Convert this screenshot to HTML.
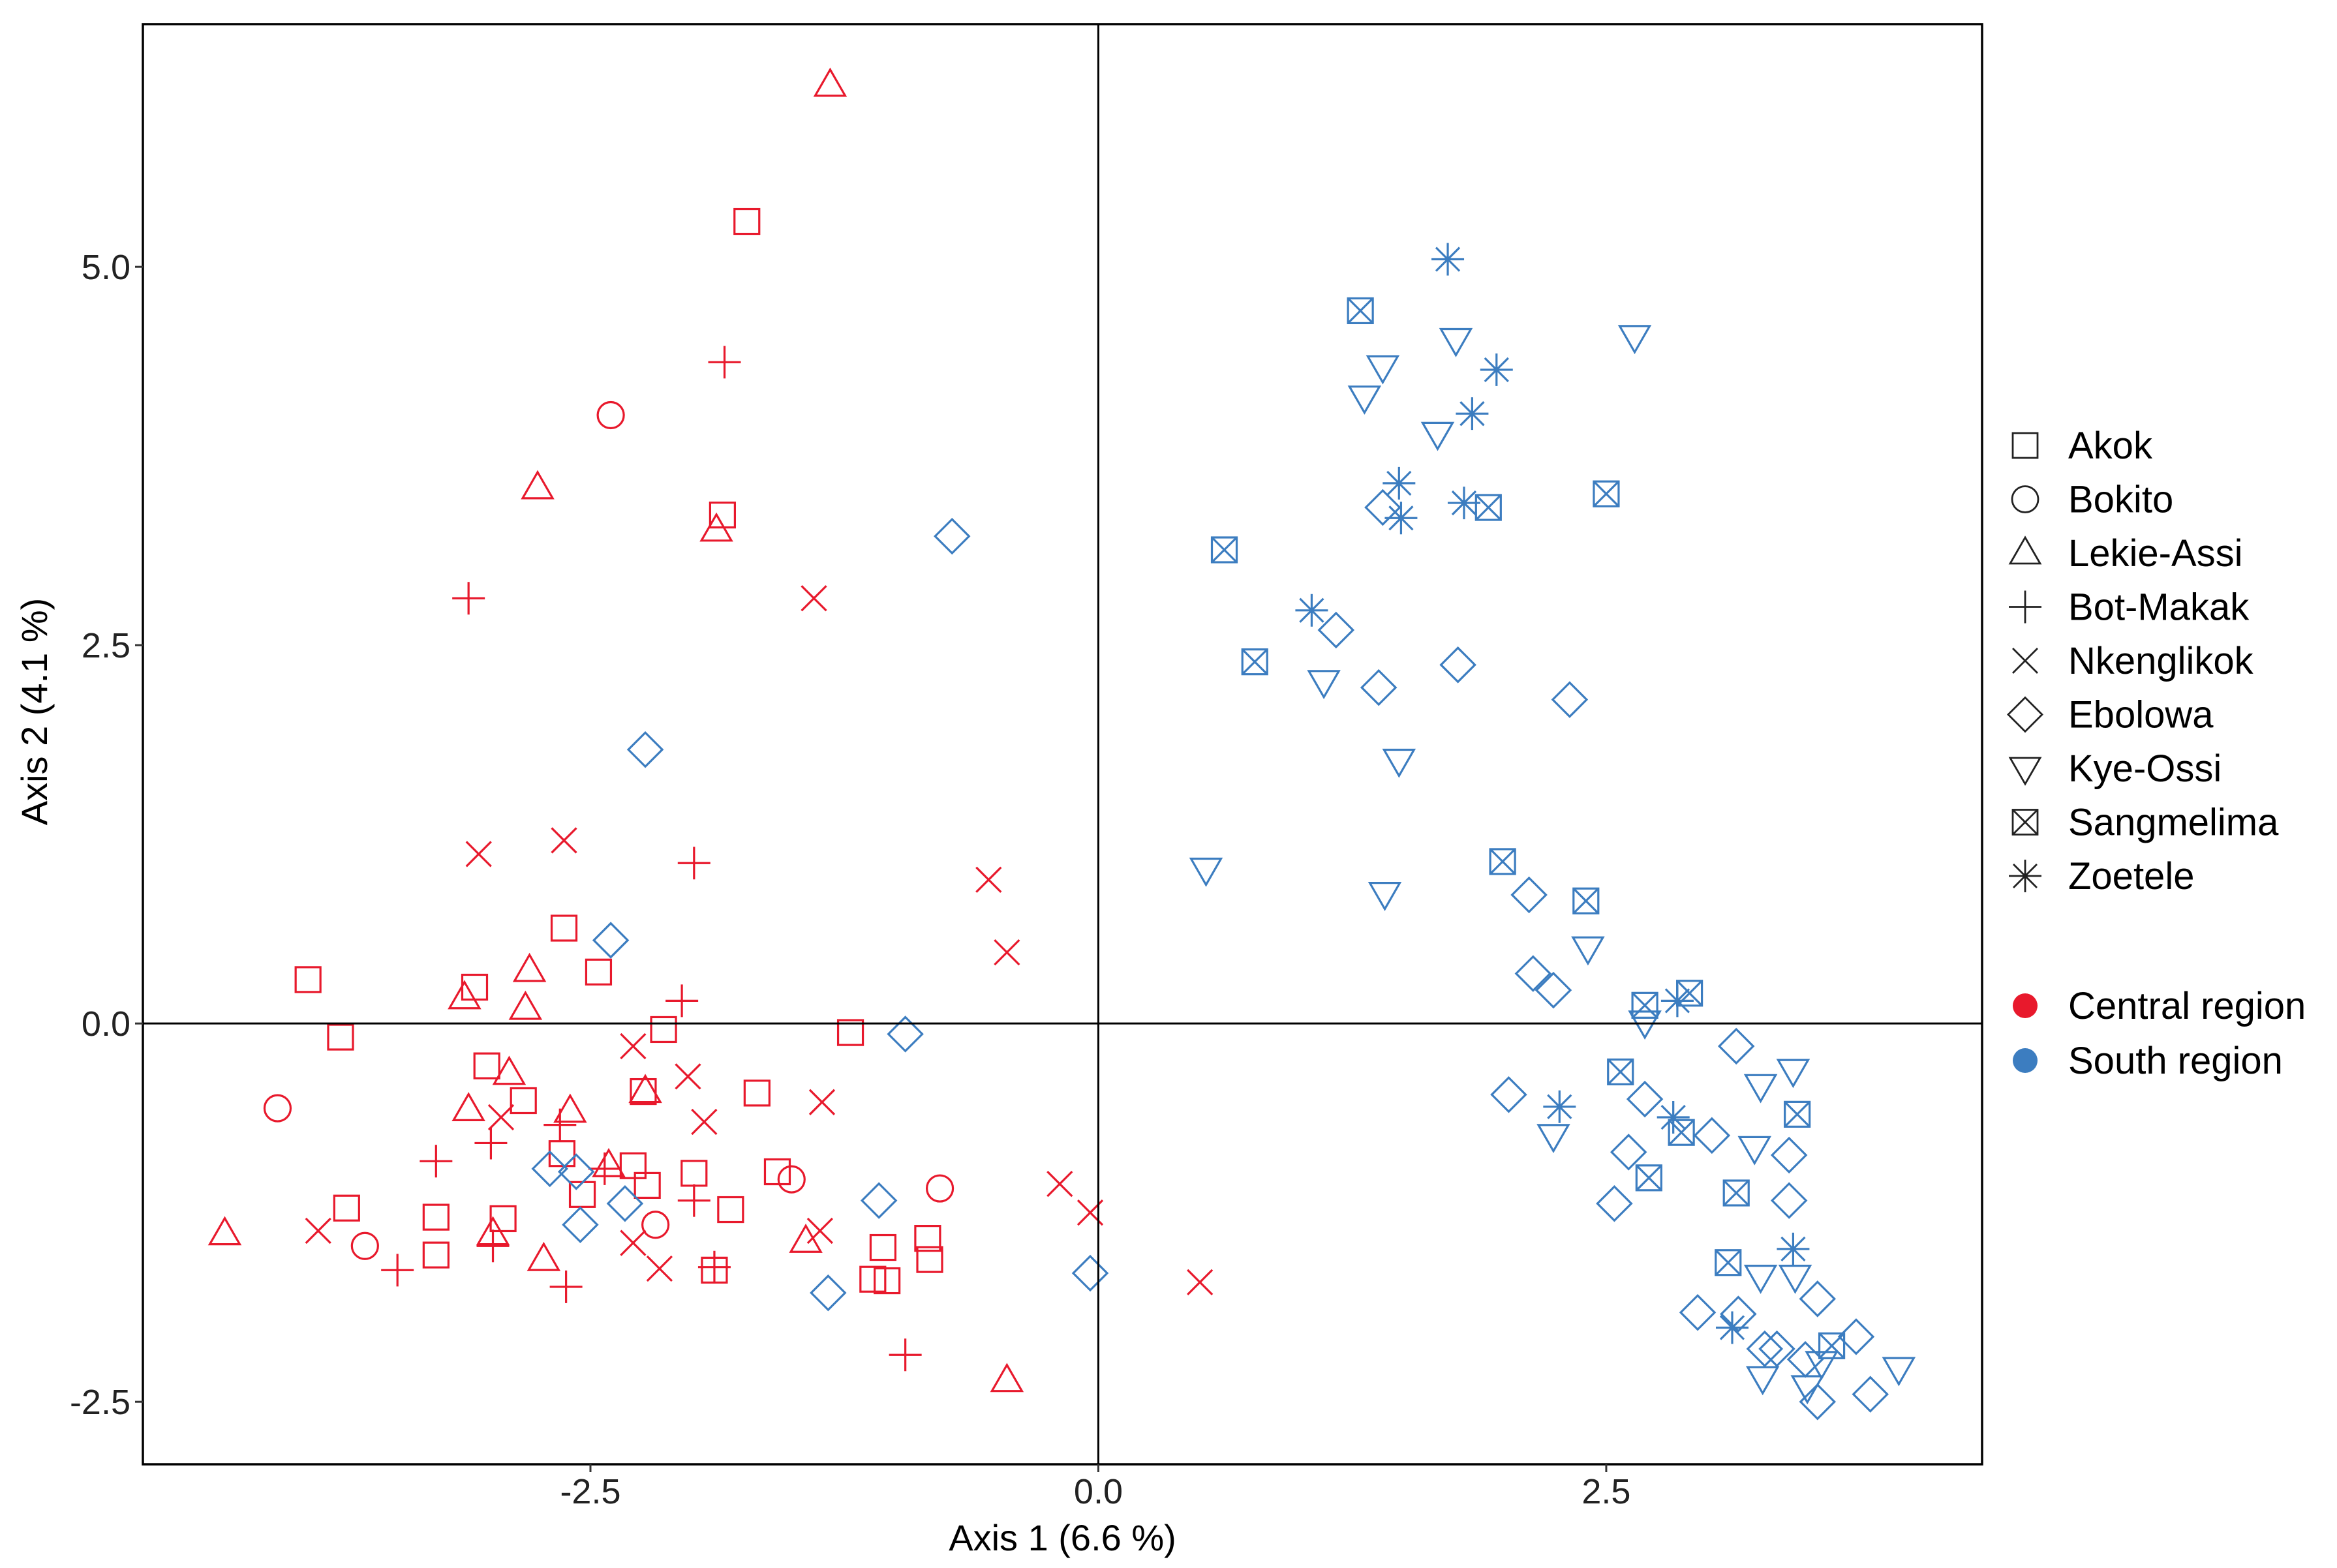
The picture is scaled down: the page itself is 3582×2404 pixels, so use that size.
<!DOCTYPE html>
<html><head><meta charset="utf-8"><style>
html,body{margin:0;padding:0;background:#fff;}
svg{display:block;font-family:"Liberation Sans",Arial,sans-serif;}
</style></head><body>
<svg id="chart" width="3582" height="2404" viewBox="0 0 3582 2404" xmlns="http://www.w3.org/2000/svg">
<rect width="3582" height="2404" fill="#fff"/>
<g id="marks"></g>
<g id="axes"></g>
<g id="legend"></g>
</svg>
<script>
const RED="#E8192C", BLUE="#3C7DC0";
const xTicks=[-2.5,0.0,2.5];
const yTicks=[-2.5,0.0,2.5,5.0];
const tickLabels={"-2.5":"-2.5","0":"0.0","2.5":"2.5","5":"5.0"};
const groups=["Akok","Bokito","Lekie-Assi","Bot-Makak","Nkenglikok","Ebolowa","Kye-Ossi","Sangmelima","Zoetele"];
const regions=["Central region","South region"];
const akokX=[-1.73,-1.85,-3.89,-3.73,-2.63,-2.46,-3.07,-3.01,-2.83,-2.14,-2.24,-1.68,-1.22,-2.64,-2.54,-2.29,-2.22,-1.99,-1.58,-1.81,-3.70,-3.26,-3.26,-2.93,-1.89,-1.06,-0.84,-0.83,-1.11,-1.04];
const akokY=[5.30,3.36,0.29,-0.09,0.63,0.34,0.24,-0.28,-0.51,-0.04,-0.45,-0.46,-0.06,-0.86,-1.13,-0.94,-1.07,-0.99,-0.98,-1.23,-1.22,-1.28,-1.53,-1.29,-1.63,-1.48,-1.42,-1.56,-1.69,-1.70];
const bokitoX=[-2.40,-4.04,-3.61,-2.18,-1.51,-0.78];
const bokitoY=[4.02,-0.56,-1.47,-1.33,-1.03,-1.09];
const lekieX=[-1.32,-2.76,-1.88,-2.80,-2.82,-3.12,-2.90,-3.10,-2.60,-2.41,-2.23,-2.98,-2.73,-4.30,-1.44,-0.45];
const lekieY=[6.20,3.54,3.26,0.35,0.10,0.17,-0.33,-0.57,-0.58,-0.94,-0.45,-1.39,-1.56,-1.39,-1.44,-2.36];
const botX=[-1.84,-3.10,-1.99,-2.05,-2.99,-3.26,-2.65,-2.98,-3.45,-2.62,-1.99,-1.89,-0.95,-2.43];
const botY=[4.37,2.81,1.06,0.15,-0.79,-0.91,-0.67,-1.47,-1.63,-1.74,-1.17,-1.61,-2.19,-0.96];
const nkX=[-1.40,-3.05,-2.63,-0.54,-0.45,-2.29,-2.02,-1.94,-1.36,-2.94,-3.84,-2.29,-2.16,-1.37,-0.19,-0.04,0.50];
const nkY=[2.81,1.12,1.21,0.95,0.47,-0.15,-0.35,-0.65,-0.52,-0.62,-1.37,-1.45,-1.62,-1.37,-1.06,-1.25,-1.71];
const ebX=[-0.72,-2.23,-2.40,-0.95,-2.70,-2.57,-2.55,-2.33,-1.08,-1.33,-0.04,1.40,1.17,1.38,1.77,2.32,2.12,2.14,2.24,2.02,2.69,2.61,2.54,3.02,3.14,3.40,3.40,3.54,2.95,3.15,3.28,3.34,3.73,3.80,3.54,3.48];
const ebY=[3.22,1.81,0.55,-0.07,-0.96,-0.98,-1.33,-1.19,-1.17,-1.78,-1.65,3.41,2.60,2.22,2.37,2.14,0.85,0.33,0.22,-0.47,-0.50,-0.85,-1.19,-0.74,-0.15,-0.87,-1.17,-1.82,-1.91,-1.92,-2.15,-2.15,-2.07,-2.45,-2.50,-2.22];
const kyeX=[1.76,2.64,1.40,1.31,1.67,1.11,1.48,0.53,1.41,2.41,2.69,3.26,3.42,3.23,2.24,3.26,3.43,3.27,3.49,3.94,3.56];
const kyeY=[4.52,4.54,4.34,4.14,3.90,2.26,1.74,1.02,0.86,0.50,0.01,-0.41,-0.31,-0.82,-0.74,-1.67,-1.67,-2.34,-2.40,-2.28,-2.24];
const sangX=[1.29,2.50,1.92,0.62,0.77,1.99,2.40,2.69,2.91,2.57,2.87,2.71,3.44,3.14,3.10,3.61];
const sangY=[4.71,3.50,3.41,3.13,2.39,1.07,0.81,0.12,0.20,-0.32,-0.72,-1.02,-0.60,-1.12,-1.58,-2.13];
const zoX=[1.72,1.96,1.84,1.48,1.49,1.80,1.05,2.27,2.83,2.85,3.42,3.12];
const zoY=[5.05,4.32,4.03,3.57,3.34,3.44,2.73,-0.55,-0.62,0.15,-1.49,-2.01];

const L=219,R=3038,T=37,B=2245;
const xMin=-4.703,xMax=4.35,yMin=-2.913,yMax=6.604;
const sx=v=>L+(v-xMin)/(xMax-xMin)*(R-L);
const sy=v=>B-(v-yMin)/(yMax-yMin)*(B-T);
const NS="http://www.w3.org/2000/svg";
function mk(tag,attrs,parent){const e=document.createElementNS(NS,tag);for(const k in attrs)e.setAttribute(k,attrs[k]);parent.appendChild(e);return e;}

function shape(kind,cx,cy,col,parent){
  const g=mk("g",{fill:"none",stroke:col,"stroke-width":3.2},parent);
  const s=19;
  if(kind==="square"){mk("rect",{x:cx-s,y:cy-s,width:2*s,height:2*s},g);}
  else if(kind==="circle"){mk("circle",{cx:cx,cy:cy,r:20},g);}
  else if(kind==="tri"){mk("polygon",{points:`${cx},${cy-24} ${cx+23},${cy+16} ${cx-23},${cy+16}`},g);}
  else if(kind==="tridown"){mk("polygon",{points:`${cx},${cy+24} ${cx+23},${cy-16} ${cx-23},${cy-16}`},g);}
  else if(kind==="plus"){mk("path",{d:`M${cx-25},${cy}H${cx+25}M${cx},${cy-25}V${cy+25}`},g);}
  else if(kind==="x"){mk("path",{d:`M${cx-19},${cy-19}L${cx+19},${cy+19}M${cx-19},${cy+19}L${cx+19},${cy-19}`},g);}
  else if(kind==="diamond"){mk("polygon",{points:`${cx},${cy-26} ${cx+26},${cy} ${cx},${cy+26} ${cx-26},${cy}`},g);}
  else if(kind==="sqx"){mk("rect",{x:cx-s,y:cy-s,width:2*s,height:2*s},g);mk("path",{d:`M${cx-s},${cy-s}L${cx+s},${cy+s}M${cx-s},${cy+s}L${cx+s},${cy-s}`},g);}
  else if(kind==="star"){mk("path",{d:`M${cx-25},${cy}H${cx+25}M${cx},${cy-25}V${cy+25}M${cx-18},${cy-18}L${cx+18},${cy+18}M${cx-18},${cy+18}L${cx+18},${cy-18}`},g);}
  return g;
}
const marks=document.getElementById("marks");
function series(xs,ys,kind,col,name){
  for(let i=0;i<xs.length;i++){
    const g=shape(kind,sx(xs[i]),sy(ys[i]),col,marks);
    
    
  }
}
series(akokX,akokY,"square",RED,"akok");
series(bokitoX,bokitoY,"circle",RED,"bokito");
series(lekieX,lekieY,"tri",RED,"lekie-assi");
series(botX,botY,"plus",RED,"bot-makak");
series(nkX,nkY,"x",RED,"nkenglikok");
series(ebX,ebY,"diamond",BLUE,"ebolowa");
series(kyeX,kyeY,"tridown",BLUE,"kye-ossi");
series(sangX,sangY,"sqx",BLUE,"sangmelima");
series(zoX,zoY,"star",BLUE,"zoetele");

const axes=document.getElementById("axes");
let e;
e=mk("line",{x1:sx(0),x2:sx(0),y1:T,y2:B,stroke:"#000","stroke-width":3},axes);

e=mk("line",{x1:L,x2:R,y1:sy(0),y2:sy(0),stroke:"#000","stroke-width":3},axes);

e=mk("rect",{x:L,y:T,width:R-L,height:B-T,fill:"none",stroke:"#000","stroke-width":3.5},axes);

xTicks.forEach(v=>{
  const x=sx(v);
  e=mk("line",{x1:x,x2:x,y1:B,y2:B+12,stroke:"#333","stroke-width":3},axes);
  
  e=mk("text",{x:x,y:B+60,"text-anchor":"middle","font-size":54,fill:"#222"},axes);
  e.textContent=tickLabels[String(v)];
  
});
yTicks.forEach(v=>{
  const y=sy(v);
  e=mk("line",{x1:L-12,x2:L,y1:y,y2:y,stroke:"#333","stroke-width":3},axes);
  
  e=mk("text",{x:L-19,y:y+19,"text-anchor":"end","font-size":54,fill:"#222"},axes);
  e.textContent=tickLabels[String(v)];
  
});
e=mk("text",{x:(L+R)/2,y:2377,"text-anchor":"middle","font-size":56,fill:"#000"},axes);
e.textContent="Axis 1 (6.6 %)";

e=mk("text",{x:0,y:0,"text-anchor":"middle","font-size":56,fill:"#000",transform:`translate(72,${(T+B)/2-50}) rotate(-90)`},axes);
e.textContent="Axis 2 (4.1 %)";


const leg=document.getElementById("legend");
const kinds=["square","circle","tri","plus","x","diamond","tridown","sqx","star"];
groups.forEach((gname,i)=>{
  const y=683+i*82.5;
  const g=shape(kinds[i],3104,y,"#222",leg);
  
  g.setAttribute("stroke-width","2.8");
  e=mk("text",{x:3170,y:y+20,"font-size":58,fill:"#000"},leg);
  e.textContent=gname;
  
});
regions.forEach((r,i)=>{
  const y=1542+i*84;
  e=mk("circle",{cx:3104,cy:y,r:19,fill:i?BLUE:RED},leg);
  
  e=mk("text",{x:3170,y:y+20,"font-size":58,fill:"#000"},leg);
  e.textContent=r;
  
});
</script>
</body></html>
